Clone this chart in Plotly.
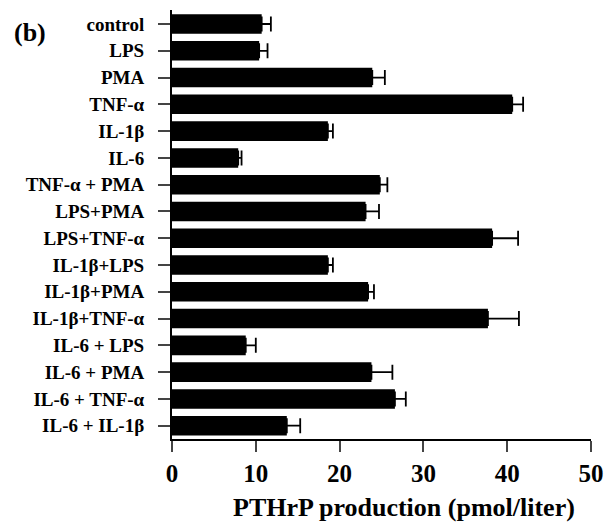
import plotly.graph_objects as go

categories = ["control", "LPS", "PMA", "TNF-α", "IL-1β", "IL-6", "TNF-α + PMA",
              "LPS+PMA", "LPS+TNF-α", "IL-1β+LPS", "IL-1β+PMA", "IL-1β+TNF-α",
              "IL-6 + LPS", "IL-6 + PMA", "IL-6 + TNF-α", "IL-6 + IL-1β"]
values = [10.7, 10.4, 23.9, 40.6, 18.6, 7.9, 24.8, 23.1, 38.2, 18.6, 23.4, 37.7,
          8.8, 23.8, 26.6, 13.7]
errors = [1.1, 1.0, 1.5, 1.3, 0.6, 0.4, 0.9, 1.6, 3.1, 0.6, 0.7, 3.7,
          1.2, 2.5, 1.3, 1.6]
x_ticks = [0, 10, 20, 30, 40, 50]

FONT = "Liberation Serif"

fig = go.Figure()
fig.add_trace(go.Bar(
    x=values, y=categories, orientation="h",
    marker=dict(color="black", line=dict(width=0)),
    error_x=dict(type="data", array=errors, symmetric=False, arrayminus=[0] * len(errors),
                 color="black", thickness=1.8, width=7.5),
    width=0.73,
))

plot_h = 524 - 10 - 85
plot_w = 614 - 172 - 13

fig.update_layout(
    width=614, height=524,
    margin=dict(l=172, r=13, t=10, b=85),
    paper_bgcolor="white", plot_bgcolor="white",
    showlegend=False,
    font=dict(family=FONT, color="black"),
    xaxis=dict(range=[0, 50], tickvals=x_ticks,
               ticktext=["<b>%d</b>" % t for t in x_ticks],
               ticks="outside", ticklen=11, tickwidth=2,
               showline=True, linecolor="black", linewidth=2, showgrid=False, zeroline=False,
               tickfont=dict(family=FONT, size=25, color="black")),
    yaxis=dict(range=[15.497, -0.523], ticks="outside", ticklen=12, tickwidth=2,
               showline=True, linecolor="black", linewidth=2, showgrid=False, zeroline=False,
               tickfont=dict(family=FONT, size=19, color="black", weight="bold"),
               ticklabelstandoff=10),
    annotations=[
        dict(text="<b>(b)</b>", x=(8 - 172) / plot_w, y=1 - (33 - 10) / plot_h,
             xref="paper", yref="paper", xanchor="left", yanchor="middle",
             showarrow=False, font=dict(family=FONT, size=26, color="black")),
        dict(text="<b>PTHrP production (pmol/liter)</b>", x=(410 - 172) / plot_w,
             y=-68 / plot_h, xref="paper", yref="paper", xanchor="center", yanchor="middle",
             showarrow=False, font=dict(family=FONT, size=26, color="black")),
    ],
)

fig.write_html("out.html", config={"displayModeBar": False},
               post_script="document.body.style.margin='0';document.body.style.padding='0';"
                           "document.documentElement.style.overflow='hidden';")
